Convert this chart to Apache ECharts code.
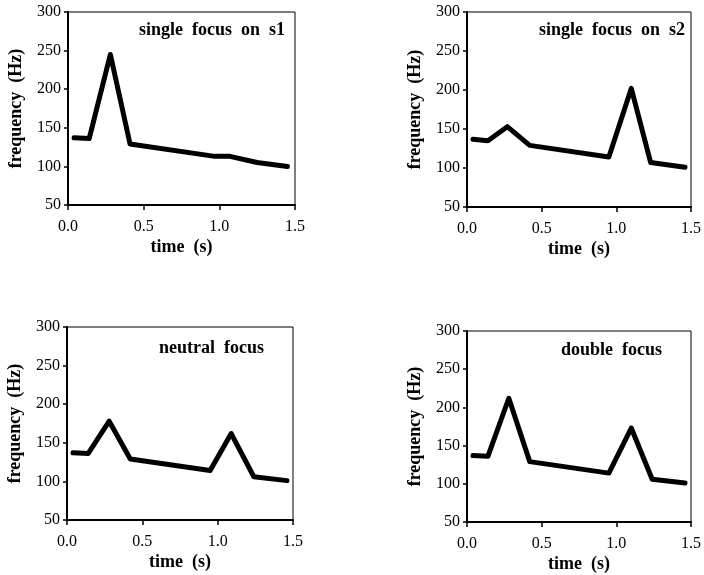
<!DOCTYPE html>
<html>
<head>
<meta charset="utf-8">
<script src="https://cdn.jsdelivr.net/npm/echarts@6/dist/echarts.min.js"></script>
<style>html,body{margin:0;padding:0;background:#fff}#c{width:704px;height:575px}</style>
</head>
<body>
<div id="c"></div>
<script>
// time points (s)
var timeS1 = [0.04, 0.14, 0.28, 0.41, 0.97, 1.07, 1.25, 1.45];
var freqS1 = [137, 136, 245, 129, 113, 113, 105, 100];

var timeS2 = [0.04, 0.14, 0.27, 0.42, 0.95, 1.10, 1.23, 1.46];
var freqS2 = [137, 135, 153, 129, 114, 202, 107, 101];

var timeNeutral = [0.04, 0.14, 0.28, 0.42, 0.95, 1.09, 1.24, 1.46];
var freqNeutral = [137, 136, 178, 129, 114, 162, 106, 101];

var timeDouble = [0.04, 0.14, 0.28, 0.42, 0.95, 1.10, 1.24, 1.46];
var freqDouble = [137, 136, 212, 129, 114, 173, 106, 101];

var panelTitles = ['single  focus  on  s1', 'single  focus  on  s2', 'neutral  focus', 'double  focus'];
var xTicks = [0.0, 0.5, 1.0, 1.5];
var yTicks = [50, 100, 150, 200, 250, 300];
var xName = 'time  (s)';
var yName = 'frequency  (Hz)';

var times = [timeS1, timeS2, timeNeutral, timeDouble];
var freqs = [freqS1, freqS2, freqNeutral, freqDouble];

var grids = [
  {left: 68, top: 12, width: 227, height: 193},
  {left: 467, top: 12, width: 226, height: 195},
  {left: 67, top: 327, width: 226, height: 193},
  {left: 467, top: 331, width: 226, height: 191}
];
var titlePos = [{r: 10, t: 9}, {r: 8, t: 9}, {r: 29, t: 12}, {r: 31, t: 10}];
var serif = '"Liberation Serif", "Times New Roman", serif';

var option = {
  backgroundColor: '#fff',
  animation: false,
  title: panelTitles.map(function (t, i) {
    var g = grids[i];
    return {
      text: t, padding: 0,
      right: 704 - (g.left + g.width) + titlePos[i].r,
      top: g.top + titlePos[i].t,
      textStyle: {fontFamily: serif, fontWeight: 'bold', fontSize: 18, color: '#000'}
    };
  }),
  grid: grids.map(function (g) {
    return {left: g.left, top: g.top, width: g.width, height: g.height,
      show: true, borderColor: '#000', borderWidth: 1, backgroundColor: 'transparent'};
  }),
  xAxis: grids.map(function (g, i) {
    return {
      type: 'value', gridIndex: i, min: xTicks[0], max: xTicks[xTicks.length - 1], interval: 0.5,
      name: xName, nameLocation: 'middle', nameGap: 33,
      nameTextStyle: {fontFamily: serif, fontWeight: 'bold', fontSize: 18, color: '#000'},
      axisLine: {lineStyle: {color: '#000', width: 2}},
      axisTick: {show: true, length: 5, lineStyle: {color: '#000', width: 1.5}},
      axisLabel: {fontFamily: serif, fontSize: 16, color: '#000', margin: 14,
        formatter: function (v) { return v.toFixed(1); }},
      splitLine: {show: false}
    };
  }),
  yAxis: grids.map(function (g, i) {
    return {
      type: 'value', gridIndex: i, min: yTicks[0], max: yTicks[yTicks.length - 1], interval: 50,
      name: yName, nameLocation: 'middle', nameGap: 43, nameRotate: 90,
      nameTextStyle: {fontFamily: serif, fontWeight: 'bold', fontSize: 18, color: '#000'},
      axisLine: {lineStyle: {color: '#000', width: 2}},
      axisTick: {show: true, length: 4, lineStyle: {color: '#000', width: 1.5}},
      axisLabel: {fontFamily: serif, fontSize: 16, color: '#000', margin: 7},
      splitLine: {show: false}
    };
  }),
  series: times.map(function (t, i) {
    return {
      type: 'line', xAxisIndex: i, yAxisIndex: i,
      data: t.map(function (x, j) { return [x, freqs[i][j]]; }),
      showSymbol: false, symbol: 'none',
      lineStyle: {color: '#000', width: 5, join: 'round', cap: 'round'}
    };
  })
};
echarts.init(document.getElementById('c'), null, {renderer: 'canvas'}).setOption(option);
</script>
</body>
</html>
